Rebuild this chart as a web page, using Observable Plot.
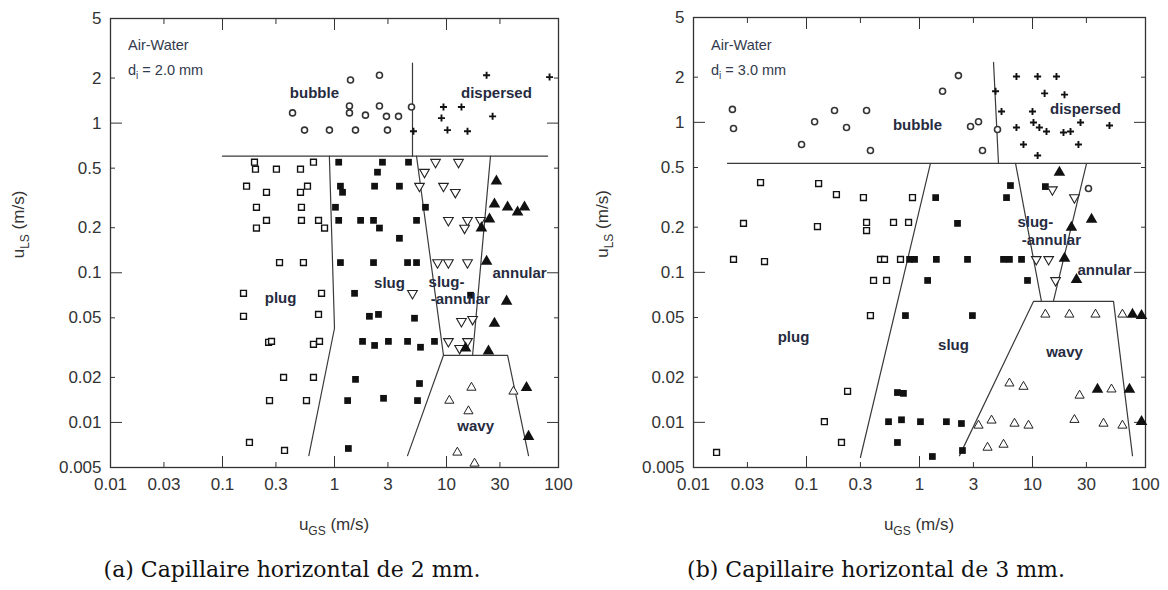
<!DOCTYPE html>
<html><head><meta charset="utf-8">
<script src="https://cdn.jsdelivr.net/npm/d3@7"></script>
<script src="https://cdn.jsdelivr.net/npm/@observablehq/plot@0.6"></script>
<style>
html,body{margin:0;padding:0;background:#fff;}
#wrap{position:relative;width:1168px;height:590px;overflow:hidden;background:#fff;}
.panel{position:absolute;top:0;}
.cap{position:absolute;top:557px;width:584px;text-align:center;font-family:"DejaVu Serif",serif;font-size:22px;color:#111;white-space:nowrap;}
</style></head><body>
<div id="wrap">
  <div id="pa" class="panel" style="left:0"></div>
  <div id="pb" class="panel" style="left:584px"></div>
  <div class="cap" style="left:0">(a) Capillaire horizontal de 2 mm.</div>
  <div class="cap" style="left:584px">(b) Capillaire horizontal de 3 mm.</div>
</div>
<script>
// ---------- axis ticks ----------
const xTicks = [0.01, 0.03, 0.1, 0.3, 1, 3, 10, 30, 100];
const xMajor = [0.1, 1, 10];
const xMinor = [0.03, 0.3, 3, 30];
const yTicks = [0.005, 0.01, 0.02, 0.05, 0.1, 0.2, 0.5, 1, 2, 5];
const yMajor = [0.01, 0.1, 1];
const yMinor = [0.02, 0.05, 0.2, 0.5, 2];

// ---------- panel (a): d = 2.0 mm, [uGS, uLS] ----------
const bubble2 = [[1.39,1.94],[2.52,2.09],[0.422,1.17],[1.36,1.30],[1.36,1.17],[1.89,1.13],[2.52,1.30],[2.91,1.11],[3.73,1.11],[0.540,0.898],[0.901,0.898],[1.54,0.898],[2.97,0.898],[4.87,1.28]];
const dispersed2 = [[22.8,2.09],[83.2,2.03],[9.40,1.28],[13.6,1.28],[9.02,1.08],[25.8,1.11],[10.2,0.898],[15.4,0.883],[5.07,0.883]];
const plug2 = [[0.193,0.548],[0.197,0.492],[0.303,0.492],[0.497,0.492],[0.649,0.548],[0.164,0.379],[0.247,0.345],[0.497,0.345],[0.574,0.379],[0.201,0.274],[0.507,0.274],[0.247,0.224],[0.201,0.199],[0.507,0.224],[0.720,0.224],[0.815,0.199],[0.323,0.117],[0.528,0.117],[0.154,0.0729],[0.766,0.0729],[0.154,0.0512],[0.720,0.0527],[0.258,0.0343],[0.274,0.0348],[0.649,0.0333],[0.735,0.0348],[0.351,0.0200],[0.649,0.0200],[0.263,0.0140],[0.562,0.0140],[0.174,0.00735],[0.358,0.00650]];
const slug2 = [[1.09,0.548],[2.68,0.548],[4.58,0.548],[2.42,0.470],[1.13,0.379],[1.18,0.345],[2.28,0.379],[3.80,0.379],[1.02,0.274],[6.49,0.274],[1.09,0.224],[1.71,0.224],[2.23,0.224],[5.40,0.224],[2.52,0.199],[3.80,0.170],[1.13,0.117],[2.23,0.117],[4.49,0.117],[5.40,0.117],[1.51,0.0729],[2.05,0.0512],[2.47,0.0527],[5.18,0.0497],[1.78,0.0348],[2.28,0.0327],[3.03,0.0348],[4.49,0.0348],[5.86,0.0318],[7.81,0.0348],[1.54,0.0194],[5.74,0.0182],[1.31,0.0140],[2.74,0.0145],[5.51,0.0140],[1.33,0.00670],[16.4,0.0708]];
const slugAnnular2 = [[7.98,0.548],[12.8,0.548],[6.36,0.470],[5.74,0.379],[9.40,0.379],[12.0,0.345],[10.4,0.224],[15.4,0.224],[14.5,0.199],[20.1,0.224],[8.32,0.117],[10.4,0.117],[15.4,0.117],[4.97,0.0729],[13.6,0.0474],[17.1,0.0489],[10.4,0.0348],[15.4,0.0348],[13.1,0.0313]];
const annular2 = [[27.9,0.409],[26.8,0.287],[35.1,0.274],[43.1,0.254],[49.7,0.274],[24.2,0.228],[20.5,0.199],[22.8,0.119],[34.4,0.0645],[26.8,0.0459],[23.7,0.0299],[14.8,0.0313],[51.8,0.0171],[54.0,0.00805]];
const wavy2 = [[16.7,0.0171],[39.6,0.0161],[10.6,0.0140],[15.7,0.0119],[12.5,0.00630],[17.8,0.00532]];
const bounds2 = [
  [[0.1,0.601],[80,0.601]],
  [[4.97,2.52],[4.97,0.601]],
  [[0.90,0.601],[1.0,0.0426],[0.59,0.0060]],
  [[5.4,0.601],[9.4,0.0281]],
  [[24.7,0.601],[17.1,0.0281]],
  [[4.49,0.0060],[9.4,0.0281],[35.1,0.0281],[54.0,0.0060]]
];
const labels2 = [
  {t:"bubble",x:0.662,y:1.59},{t:"dispersed",x:27.9,y:1.59},{t:"plug",x:0.330,y:0.0675},
  {t:"slug",x:3.10,y:0.0851},{t:"slug-",x:10.0,y:0.0866},{t:"-annular",x:13.3,y:0.0665},
  {t:"annular",x:44.9,y:0.0993},{t:"wavy",x:18.2,y:0.0094}
];

// ---------- panel (b): d = 3.0 mm ----------
const bubble3 = [[0.0221,1.22],[0.0226,0.910],[0.118,1.01],[0.177,1.20],[0.226,0.924],[0.340,1.20],[0.0904,0.711],[0.368,0.649],[2.21,2.05],[1.60,1.61],[3.33,1.01],[2.83,0.938],[3.61,0.649],[4.90,0.896],[31.3,0.362]];
const dispersed3 = [[4.71,1.61],[7.21,2.02],[11.1,2.02],[16.3,2.02],[12.8,1.56],[19.2,1.53],[5.32,1.18],[10.0,1.18],[10.2,0.998],[7.21,0.924],[11.5,0.924],[13.3,0.869],[18.8,0.855],[21.7,0.869],[26.6,0.998],[48.0,0.953],[8.32,0.711],[25.5,0.711],[11.1,0.601]];
const plug3 = [[0.0392,0.397],[0.128,0.391],[0.184,0.330],[0.319,0.315],[0.867,0.315],[0.0277,0.212],[0.125,0.202],[0.340,0.215],[0.340,0.190],[0.589,0.215],[0.800,0.215],[0.0226,0.122],[0.0425,0.118],[0.452,0.122],[0.490,0.122],[0.679,0.122],[0.392,0.0883],[0.511,0.0883],[0.368,0.0515],[0.231,0.0161],[0.144,0.0101],[0.204,0.00734],[0.0160,0.00630]];
const slug3 = [[0.817,0.122],[0.904,0.122],[1.18,0.0883],[0.751,0.0515],[0.638,0.0158],[0.721,0.0156],[0.532,0.0101],[0.693,0.0104],[1.02,0.0101],[0.638,0.00734],[1.39,0.315],[6.38,0.379],[5.89,0.315],[13.0,0.373],[2.17,0.212],[1.41,0.122],[2.66,0.122],[5.54,0.122],[6.25,0.122],[8.00,0.122],[9.03,0.0883],[2.94,0.0515],[1.73,0.0101],[2.35,0.00982],[2.40,0.00649],[1.30,0.00592]];
const slugAnnular3 = [[15.0,0.356],[23.5,0.315],[10.8,0.122],[13.9,0.122],[16.0,0.0883]];
const annular3 = [[17.3,0.463],[33.3,0.225],[22.1,0.199],[19.2,0.124],[24.5,0.0895],[76.7,0.0524],[92.2,0.0515],[37.6,0.0166],[72.1,0.0166],[92.2,0.0101]];
const wavy3 = [[13.0,0.0524],[21.2,0.0524],[36.1,0.0524],[62.5,0.0524],[6.25,0.0182],[8.32,0.0173],[26.1,0.0151],[50.0,0.0166],[3.33,0.00953],[4.34,0.0103],[6.93,0.00982],[9.22,0.00953],[23.5,0.0104],[42.5,0.00982],[62.5,0.00953],[4.00,0.00679],[5.54,0.00711]];
const bounds3 = [
  [[0.020,0.532],[90,0.532]],
  [[4.52,2.51],[5.0,0.532]],
  [[1.25,0.532],[0.30,0.00583]],
  [[7.08,0.532],[12.0,0.064]],
  [[30.1,0.532],[15.3,0.064]],
  [[2.26,0.0060],[10.2,0.064],[52.1,0.064],[76.7,0.0060]]
];
const labels3 = [
  {t:"bubble",x:0.96,y:0.953},{t:"dispersed",x:29.4,y:1.22},{t:"plug",x:0.0767,y:0.0368},
  {t:"slug",x:2.0,y:0.0325},{t:"slug-",x:10.6,y:0.215},{t:"-annular",x:14.7,y:0.163},
  {t:"annular",x:43.4,y:0.104},{t:"wavy",x:19.2,y:0.0292}
];

const fx = d => d[0], fy = d => d[1];
const fmt = d => String(d);

function makePanel(S, ml, mr, mt, diam) {
  const fig = Plot.plot({
    width: 584, height: 540,
    marginLeft: ml, marginRight: mr, marginTop: mt, marginBottom: 73,
    x: {type: "log", domain: [0.01, 100]},
    y: {type: "log", domain: [0.005, 5]},
    style: {fontFamily: "'Liberation Sans', Arial, sans-serif", fontSize: "17px", color: "#333", background: "white"},
    marks: [
      Plot.axisX({anchor: "bottom", ticks: xMajor, tickSize: -11, fill: "none", label: null, stroke: "#333"}),
      Plot.axisX({anchor: "bottom", ticks: xMinor, tickSize: -5, fill: "none", label: null, stroke: "#333"}),
      Plot.axisX({anchor: "top", ticks: xMajor, tickSize: -11, fill: "none", label: null, stroke: "#333"}),
      Plot.axisX({anchor: "top", ticks: xMinor, tickSize: -5, fill: "none", label: null, stroke: "#333"}),
      Plot.axisY({anchor: "left", ticks: yMajor, tickSize: -12, fill: "none", label: null, stroke: "#333"}),
      Plot.axisY({anchor: "left", ticks: yMinor, tickSize: -5, fill: "none", label: null, stroke: "#333"}),
      Plot.axisY({anchor: "right", ticks: yMajor, tickSize: -12, fill: "none", label: null, stroke: "#333"}),
      Plot.axisY({anchor: "right", ticks: yMinor, tickSize: -5, fill: "none", label: null, stroke: "#333"}),
      // tick labels
      Plot.text(xTicks, {x: d => d, frameAnchor: "bottom", dy: 22, text: fmt, fill: "#333", fontSize: 17}),
      Plot.text(yTicks, {y: d => d, frameAnchor: "left", dx: -9, textAnchor: "end", text: fmt, fill: "#333", fontSize: 17}),
      Plot.frame({stroke: "#333", strokeWidth: 1.3}),
      ...S.bounds.map(b => Plot.line(b, {x: fx, y: fy, stroke: "#3a3a3a", strokeWidth: 1.2})),
      Plot.dot(S.bubble, {x: fx, y: fy, r: 3, stroke: "#333", strokeWidth: 1.6, fill: "white"}),
      Plot.dot(S.dispersed, {x: fx, y: fy, symbol: "plus", r: 2.4, stroke: "#111", strokeWidth: 1.9}),
      Plot.dot(S.plug, {x: fx, y: fy, symbol: "square", r: 3.3, stroke: "#111", strokeWidth: 1.4, fill: "white"}),
      Plot.dot(S.slug, {x: fx, y: fy, symbol: "square", r: 3.8, fill: "#111", stroke: "none"}),
      Plot.dot(S.slugAnnular, {x: fx, y: fy, symbol: "triangle", rotate: 180, r: 3.6, stroke: "#222", strokeWidth: 1.1, fill: "white"}),
      Plot.dot(S.annular, {x: fx, y: fy, symbol: "triangle", r: 4.3, fill: "#111", stroke: "none"}),
      Plot.dot(S.wavy, {x: fx, y: fy, symbol: "triangle", r: 3.4, stroke: "#222", strokeWidth: 1, fill: "white"}),
      Plot.text(S.labels, {x: "x", y: "y", text: "t", fontWeight: "bold", fontSize: 15, fill: "#262b40"})
    ]
  });
  const svg = d3.select(fig);
  const yMid = (mt + 467) / 2 - 18;
  // y-axis title with subscript
  const yl = svg.append("text").attr("transform", `translate(24,${yMid}) rotate(-90)`)
    .attr("text-anchor", "middle").attr("font-size", 17).attr("fill", "#333");
  yl.append("tspan").text("u");
  yl.append("tspan").attr("font-size", 12).attr("dy", 5).text("LS");
  yl.append("tspan").attr("dy", -5).text(" (m/s)");
  // x-axis title
  const xl = svg.append("text").attr("x", ml + (584 - ml - mr) / 2).attr("y", 530)
    .attr("text-anchor", "middle").attr("font-size", 17).attr("fill", "#333");
  xl.append("tspan").text("u");
  xl.append("tspan").attr("font-size", 12).attr("dy", 5).text("GS");
  xl.append("tspan").attr("dy", -5).text(" (m/s)");
  // annotation
  svg.append("text").attr("x", ml + 18).attr("y", 50).attr("text-anchor", "start")
    .attr("font-size", 14.5).attr("fill", "#333a4d").text("Air-Water");
  const di = svg.append("text").attr("x", ml + 18).attr("y", 75).attr("text-anchor", "start")
    .attr("font-size", 14.5).attr("fill", "#333a4d");
  di.append("tspan").text("d");
  di.append("tspan").attr("font-size", 10).attr("dy", 4).text("i");
  di.append("tspan").attr("dy", -4).text(" = " + diam + " mm");
  return fig;
}

document.getElementById("pa").append(makePanel({
  bubble: bubble2, dispersed: dispersed2, plug: plug2, slug: slug2, slugAnnular: slugAnnular2,
  annular: annular2, wavy: wavy2, bounds: bounds2, labels: labels2
}, 110, 26, 18, "2.0"));
document.getElementById("pb").append(makePanel({
  bubble: bubble3, dispersed: dispersed3, plug: plug3, slug: slug3, slugAnnular: slugAnnular3,
  annular: annular3, wavy: wavy3, bounds: bounds3, labels: labels3
}, 109, 23, 17, "3.0"));
</script>
</body></html>
